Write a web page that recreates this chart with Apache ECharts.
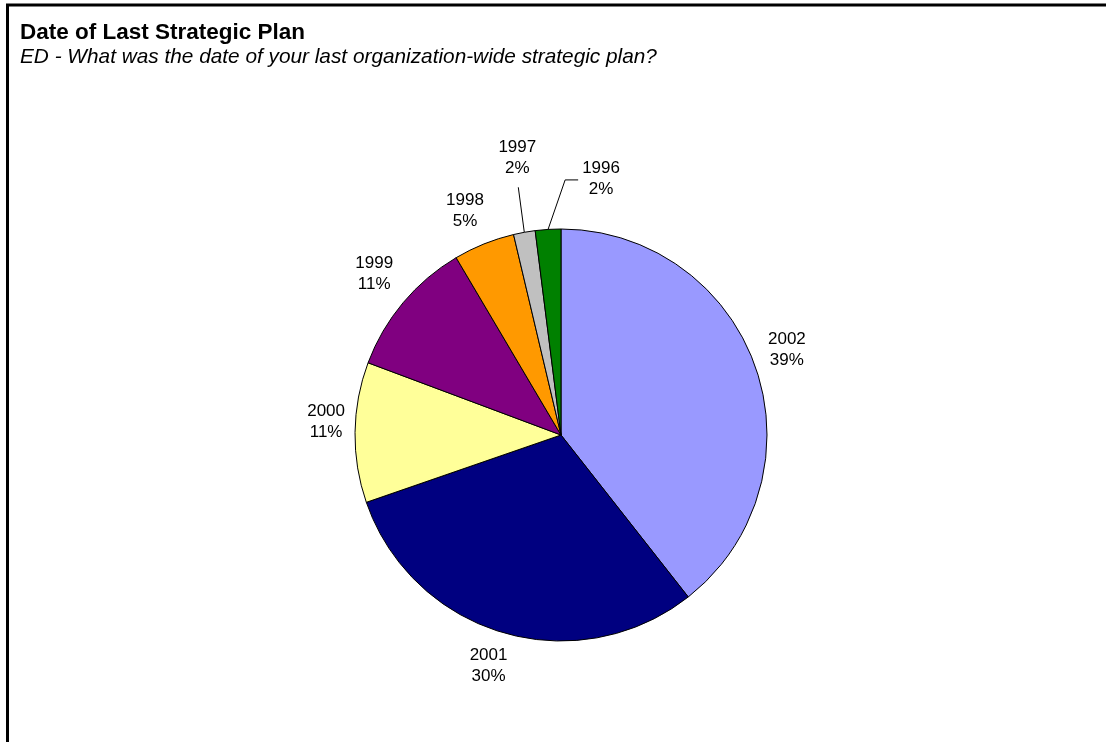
<!DOCTYPE html>
<html>
<head>
<meta charset="utf-8">
<title>Date of Last Strategic Plan</title>
<script src="https://cdn.jsdelivr.net/npm/echarts@6/dist/echarts.min.js"></script>
<style>
  html, body { margin: 0; padding: 0; background: #ffffff; }
  #chart { width: 1106px; height: 742px; }
</style>
</head>
<body>
<div id="chart"></div>
<script>
// Survey answers: year of the organisation's last strategic plan (share of respondents, %)
const years = ['2002', '2001', '2000', '1999', '1998', '1997', '1996'];
const shares = [39.4, 30.3, 11.0, 10.8, 4.8, 1.7, 2.0];
const sliceColors = ['#9999FF', '#000080', '#FFFF99', '#800080', '#FF9900', '#C0C0C0', '#008000'];

const titleText = 'Date of Last Strategic Plan';
const subtitleText = 'ED - What was the date of your last organization-wide strategic plan?';

// Small slices whose labels sit away from the pie with a leader line:
// offset of the label centre from the slice's outer mid point.
const leaderLabels = {
  '1997': { offset: [-7, -74] },
  '1996': { offset: [53, -51] }
};
// Fine adjustment of individual label positions (pixels).
const labelShift = { '2000': [3, -10] };
const labelGap = 13;

const chart = echarts.init(document.getElementById('chart'), null, { renderer: 'canvas' });

function sliceGeometry(idx) {
  const data = chart.getModel().getSeriesByIndex(0).getData();
  const l = data.getItemLayout(idx);
  const mid = (l.startAngle + l.endAngle) / 2;
  const dx = Math.cos(mid), dy = Math.sin(mid);
  return { dx: dx, dy: dy, ex: l.cx + l.r * dx, ey: l.cy + l.r * dy };
}

function clamp1(v) { return Math.max(-1, Math.min(1, v)); }

const option = {
  animation: false,
  backgroundColor: '#ffffff',
  title: {
    text: titleText,
    subtext: subtitleText,
    left: 20,
    top: 21,
    padding: 0,
    itemGap: 3,
    textStyle: {
      fontFamily: 'Liberation Sans, Arial, sans-serif',
      fontSize: 22.5,
      fontWeight: 'bold',
      color: '#000000'
    },
    subtextStyle: {
      fontFamily: 'Liberation Sans, Arial, sans-serif',
      fontSize: 20.8,
      fontStyle: 'italic',
      color: '#000000'
    }
  },
  graphic: [{
    type: 'rect',
    silent: true,
    shape: { x: 7.5, y: 5, width: 1300, height: 1000 },
    style: { fill: 'none', stroke: '#000000', lineWidth: 3 }
  }],
  series: [{
    type: 'pie',
    center: [561, 435],
    radius: 206,
    startAngle: 90,
    clockwise: true,
    avoidLabelOverlap: false,
    silent: true,
    itemStyle: { borderColor: '#000000', borderWidth: 1 },
    label: {
      show: true,
      position: 'outside',
      fontFamily: 'Liberation Sans, Arial, sans-serif',
      fontSize: 17,
      lineHeight: 21,
      color: '#000000',
      formatter: function (p) {
        return p.name + '\n' + Math.round(p.percent) + '%';
      }
    },
    labelLine: { show: false },
    labelLayout: function (p) {
      const g = sliceGeometry(p.dataIndex);
      const name = years[p.dataIndex];
      const w = p.labelRect.width, h = p.labelRect.height;
      const lead = leaderLabels[name];
      if (lead) {
        const cx = g.ex + lead.offset[0];
        const cy = g.ey + lead.offset[1];
        let pts;
        if (lead.offset[0] > 0) {
          // label to the right: diagonal up, then a short horizontal run
          const left = cx - w / 2;
          const yy = cy + 1.5;
          pts = [[g.ex, g.ey], [left - 17, yy], [left - 4, yy]];
        } else {
          // label above: straight line up to below the text
          const bottom = cy + h / 2;
          pts = [[g.ex, g.ey], [cx + 1, bottom + 8], [cx + 1, bottom + 8]];
        }
        return { x: cx, y: cy, align: 'center', verticalAlign: 'middle', labelLinePoints: pts };
      }
      const shift = labelShift[name] || [0, 0];
      const cx = g.ex + labelGap * g.dx + (w / 2) * clamp1(2 * g.dx) + shift[0];
      const cy = g.ey + labelGap * g.dy + (h / 2) * clamp1(2 * g.dy) + shift[1];
      return { x: cx, y: cy, align: 'center', verticalAlign: 'middle' };
    },
    data: years.map(function (y, i) {
      const item = { name: y, value: shares[i], itemStyle: { color: sliceColors[i] } };
      if (leaderLabels[y]) {
        item.labelLine = {
          show: true,
          length: 10,
          length2: 10,
          smooth: false,
          lineStyle: { color: '#000000', width: 1 }
        };
      }
      return item;
    })
  }]
};

chart.setOption(option);
</script>
</body>
</html>
